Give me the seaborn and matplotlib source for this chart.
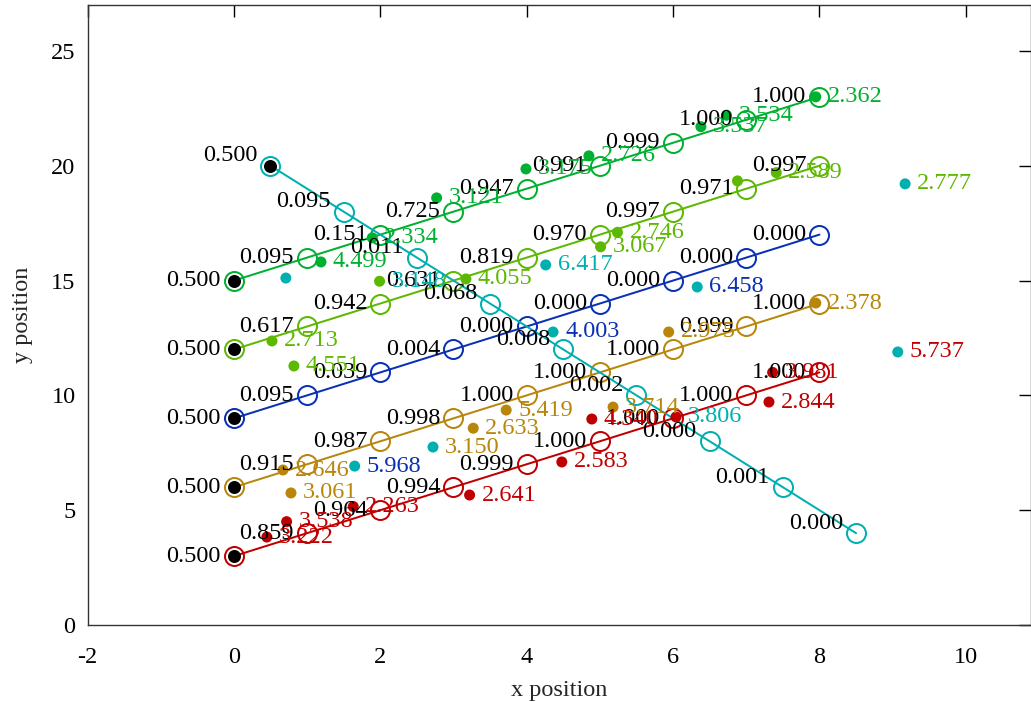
import numpy as np
import pandas as pd
import matplotlib
matplotlib.use("Agg")
import matplotlib.pyplot as plt
import seaborn as sns

# ---------------- data ----------------
series_names = ["red", "gold", "blue", "ygreen", "green", "cyan"]
series_colors = ["#c00000", "#b8860b", "#0a30b4", "#5cb800", "#00b030", "#00b0b0"]

red_x = [0, 1, 2, 3, 4, 5, 6, 7, 8]
red_y = [3, 4, 5, 6, 7, 8, 9, 10, 11]
red_lab = ["0.500", "0.859", "0.964", "0.994", "0.999", "1.000", "1.000", "1.000", "1.000"]

gold_x = [0, 1, 2, 3, 4, 5, 6, 7, 8]
gold_y = [6, 7, 8, 9, 10, 11, 12, 13, 14]
gold_lab = ["0.500", "0.915", "0.987", "0.998", "1.000", "1.000", "1.000", "0.999", "1.000"]

blue_x = [0, 1, 2, 3, 4, 5, 6, 7, 8]
blue_y = [9, 10, 11, 12, 13, 14, 15, 16, 17]
blue_lab = ["0.500", "0.095", "0.039", "0.004", "0.000", "0.000", "0.000", "0.000", "0.000"]

ygreen_x = [0, 1, 2, 3, 4, 5, 6, 7, 8]
ygreen_y = [12, 13, 14, 15, 16, 17, 18, 19, 20]
ygreen_lab = ["0.500", "0.617", "0.942", "0.631", "0.819", "0.970", "0.997", "0.971", "0.997"]

green_x = [0, 1, 2, 3, 4, 5, 6, 7, 8]
green_y = [15, 16, 17, 18, 19, 20, 21, 22, 23]
green_lab = ["0.500", "0.095", "0.151", "0.725", "0.947", "0.991", "0.999", "1.000", "1.000"]

cyan_x = [0.5, 1.5, 2.5, 3.5, 4.5, 5.5, 6.5, 7.5, 8.5]
cyan_y = [20, 18, 16, 14, 12, 10, 8, 6, 4]
cyan_lab = ["0.500", "0.095", "0.011", "0.068", "0.008", "0.002", "0.000", "0.001", "0.000"]

# start points (black dots)
start_x = [0, 0, 0, 0, 0, 0.5]
start_y = [3, 6, 9, 12, 15, 20]

# measurement dots: x, y, dot colour index, label, label colour index
dot_x = [1.19, 1.89, 2.77, 3.99, 4.85, 6.38, 6.73, 7.95,
         0.52, 0.82, 1.99, 3.17, 5.24, 5.01, 6.88, 7.41,
         0.67, 0.78, 3.27, 3.72, 5.18, 5.94, 7.95,
         0.45, 0.72, 1.63, 3.22, 4.48, 4.89, 6.04, 7.31, 7.36,
         0.71, 1.65, 2.72, 4.26, 4.36, 6.33, 9.17, 9.07]
dot_y = [15.81, 16.86, 18.60, 19.86, 20.43, 21.70, 22.20, 23.00,
         12.37, 11.28, 14.97, 15.07, 17.10, 16.47, 19.34, 19.70,
         6.75, 5.75, 8.57, 9.36, 9.49, 12.76, 14.02,
         3.83, 4.50, 5.16, 5.66, 7.10, 8.97, 9.06, 9.71, 11.00,
         15.11, 6.92, 7.75, 15.68, 12.76, 14.72, 19.21, 11.89]
dot_col = [4, 4, 4, 4, 4, 4, 4, 4,
           3, 3, 3, 3, 3, 3, 3, 3,
           1, 1, 1, 1, 1, 1, 1,
           0, 0, 0, 0, 0, 0, 0, 0, 0,
           5, 5, 5, 5, 5, 5, 5, 5]
dot_lab = ["4.499", "2.334", "3.121", "3.175", "2.726", "3.537", "3.534", "2.362",
           "2.713", "4.551", "3.148", "4.055", "2.746", "3.067", "", "2.589",
           "2.646", "3.061", "2.633", "5.419", "3.714", "2.975", "2.378",
           "3.222", "3.538", "2.263", "2.641", "2.583", "4.340", "3.806", "2.844", "3.981",
           "", "5.968", "3.150", "6.417", "4.003", "6.458", "2.777", "5.737"]
dot_lab_col = [4, 4, 4, 4, 4, 4, 4, 4,
               3, 3, 5, 3, 3, 3, 3, 3,
               1, 1, 1, 1, 1, 1, 1,
               0, 0, 0, 0, 0, 0, 5, 0, 0,
               5, 2, 1, 5, 2, 2, 3, 0]

xticks = [-2, 0, 2, 4, 6, 8, 10]
yticks = [0, 5, 10, 15, 20, 25]

# ---------------- style ----------------
sns.set_theme(style="white")
plt.rcParams["font.family"] = ["Liberation Serif", "DejaVu Serif"]

PX = 0.72  # points per pixel at dpi 100
FS = 17.5

fig = plt.figure(figsize=(10.31, 7.02), dpi=100)
ax = fig.add_axes([87.5 / 1031, 77 / 702, (1031 - 87.5) / 1031, 620 / 702])

tracks = {
    "red": (red_x, red_y, red_lab),
    "gold": (gold_x, gold_y, gold_lab),
    "blue": (blue_x, blue_y, blue_lab),
    "ygreen": (ygreen_x, ygreen_y, ygreen_lab),
    "green": (green_x, green_y, green_lab),
    "cyan": (cyan_x, cyan_y, cyan_lab),
}

for name, col in zip(series_names, series_colors):
    xs, ys, labs = tracks[name]
    df = pd.DataFrame({"x": xs, "y": ys})
    sns.lineplot(data=df, x="x", y="y", ax=ax, color=col, lw=2 * PX,
                 marker="o", markersize=19 * PX, markerfacecolor="none",
                 markeredgecolor=col, markeredgewidth=2 * PX,
                 sort=False, estimator=None, zorder=2)
    dy = 10 if name == "cyan" else 0
    for x, y, t in zip(xs, ys, labs):
        ax.annotate(t, (x, y), xytext=(-13 * PX, dy * PX), textcoords="offset points",
                    ha="right", va="center", fontsize=FS, color="black", zorder=4)

# measurement dots
ddf = pd.DataFrame({"x": dot_x, "y": dot_y,
                    "c": [series_names[i] for i in dot_col]})
sns.scatterplot(data=ddf, x="x", y="y", hue="c",
                palette=dict(zip(series_names, series_colors)),
                s=(11 * PX) ** 2, linewidth=0, ax=ax, legend=False, zorder=3)
for x, y, t, ci in zip(dot_x, dot_y, dot_lab, dot_lab_col):
    if t:
        ax.annotate(t, (x, y), xytext=(12 * PX, 0), textcoords="offset points",
                    ha="left", va="center", fontsize=FS, color=series_colors[ci], zorder=4)

# start points
sdf = pd.DataFrame({"x": start_x, "y": start_y})
sns.scatterplot(data=sdf, x="x", y="y", color="black", s=(13 * PX) ** 2,
                linewidth=0, ax=ax, legend=False, zorder=3)

ax.set_xlim(-2, 10.89)
ax.set_ylim(0, 27)
ax.set_xticks(xticks)
ax.set_yticks(yticks)
ax.set_xticklabels([str(v) for v in xticks])
ax.set_yticklabels([str(v) for v in yticks])
ax.tick_params(direction="in", length=12 * PX, width=1, top=True, right=True,
               labelsize=FS, colors="black")
ax.tick_params(axis="x", pad=22 * PX)
ax.tick_params(axis="y", pad=12 * PX)
for sp in ax.spines.values():
    sp.set_color("#333333")
    sp.set_linewidth(1)
ax.set_xlabel("x position", fontsize=FS, labelpad=12 * PX)
ax.set_ylabel("y position", fontsize=FS, labelpad=18 * PX)
ax.grid(False)

fig.savefig("out.png", dpi=100)
